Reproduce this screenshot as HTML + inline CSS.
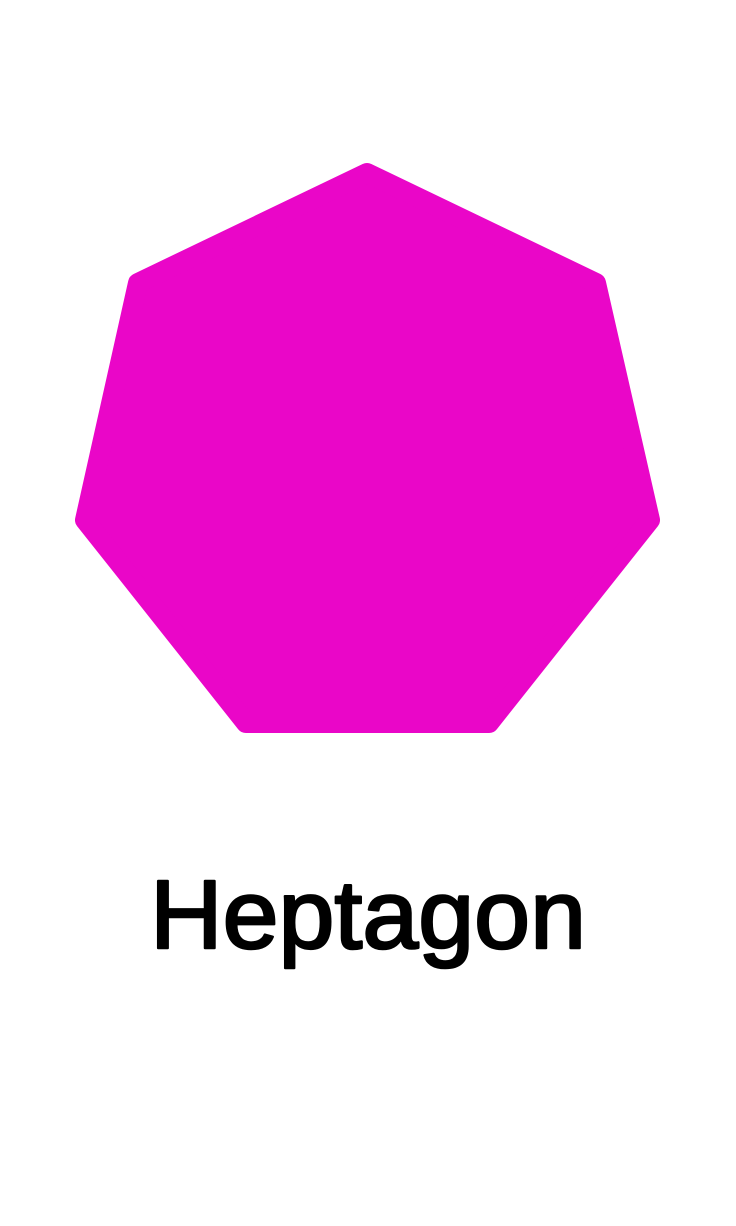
<!DOCTYPE html>
<html>
<head>
<meta charset="utf-8">
<style>
  html, body { margin: 0; padding: 0; background: #ffffff; }
  body { width: 736px; height: 1226px; overflow: hidden; }
  svg { display: block; }
</style>
</head>
<body>
<svg width="736" height="1226" viewBox="0 0 736 1226">
  <rect x="0" y="0" width="736" height="1226" fill="#ffffff"/>
  <polygon
    points="367,173 596,283 650,520 489,723 246,723 85,520 138,283"
    fill="#EA06C8" stroke="#EA06C8" stroke-width="20" stroke-linejoin="round"/>
  <text x="368" y="948" text-anchor="middle"
    font-family="'Liberation Sans', 'DejaVu Sans', sans-serif" font-size="97" font-weight="normal"
    fill="#000000" stroke="#000000" stroke-width="2.5" stroke-linejoin="round"
    textLength="436" lengthAdjust="spacingAndGlyphs">Heptagon</text>
</svg>
</body>
</html>
